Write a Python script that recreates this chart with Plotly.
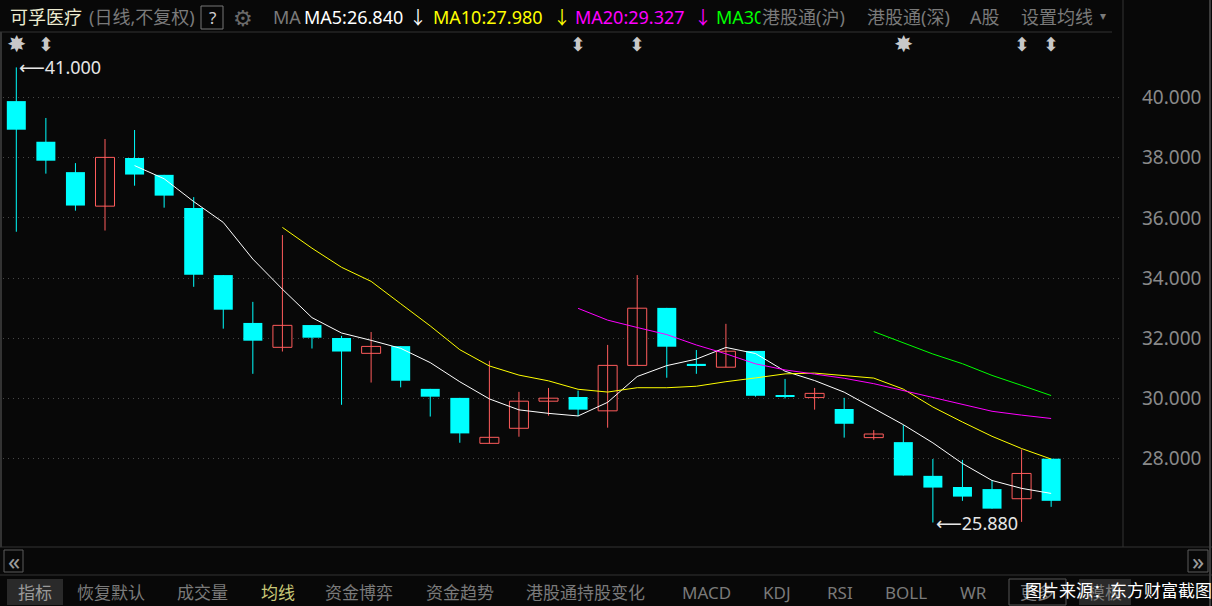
import plotly.graph_objects as go
import pandas as pd

# ---- data ----
opens  = [39.88, 38.53, 37.52, 36.39, 37.99, 37.43, 36.33, 34.10, 32.51, 31.70,
          32.44, 32.01, 31.50, 31.74, 30.32, 30.02, 28.51, 29.01, 29.91, 30.05,
          29.59, 31.10, 33.01, 31.15, 31.04, 31.58, 30.11, 30.03, 29.65, 28.70,
          28.55, 27.43, 27.06, 26.99, 26.67, 28.00]
highs  = [41.00, 39.32, 37.82, 38.62, 38.92, 37.43, 36.69, 34.10, 33.21, 35.43,
          32.44, 32.08, 32.21, 31.74, 30.32, 30.02, 31.25, 30.22, 30.35, 30.26,
          31.78, 34.10, 33.01, 31.61, 32.48, 31.58, 30.65, 30.35, 30.02, 28.95,
          29.12, 27.99, 27.96, 27.29, 28.31, 28.00]
lows   = [35.54, 37.47, 36.24, 35.58, 37.07, 36.34, 33.71, 32.32, 30.82, 31.56,
          31.66, 29.79, 30.53, 30.37, 29.40, 28.53, 28.51, 28.73, 29.43, 29.41,
          29.03, 31.10, 30.69, 30.82, 31.04, 30.06, 30.00, 29.63, 28.70, 28.63,
          27.44, 25.88, 26.60, 26.34, 25.90, 26.40]
closes = [38.93, 37.90, 36.41, 38.01, 37.44, 36.74, 34.11, 32.95, 31.92, 32.43,
          32.02, 31.56, 31.73, 30.59, 30.06, 28.84, 28.71, 29.91, 30.01, 29.63,
          31.10, 33.00, 31.72, 31.09, 31.57, 30.09, 30.06, 30.17, 29.16, 28.82,
          27.44, 27.04, 26.74, 26.34, 27.51, 26.60]
ma_periods = [5, 10, 20, 30]
ma_colors = ["#ffffff", "#ffff00", "#ff00ff", "#00ff00"]
y_ticks = [28, 30, 32, 34, 36, 38, 40]
header_ma = ["MA5:26.840", "MA10:27.980", "MA20:29.327", "MA30"]
toolbar = ["恢复默认", "成交量", "均线", "资金博弈", "资金趋势", "港股通持股变化",
           "MACD", "KDJ", "RSI", "BOLL", "WR"]
star_idx = [0, 30]
updown_idx = [1, 19, 21, 34, 35]

BG = "#080808"
RED = "#ff5c5c"
CYAN = "#00ffff"
GRAY = "#8a8a8a"
FONT = "Noto Sans, Noto Sans CJK SC, DejaVu Sans"

n = len(closes)
xs = list(range(n))
up = [c >= o for o, c in zip(opens, closes)]

W, H = 1212, 606
L, R, T, B = 3, 1123, 32, 547


def px(x):
    return (x - L) / (R - L)


def py(y):
    return (B - y) / (B - T)


fig = go.Figure()

# wicks
for color, flag in ((RED, True), (CYAN, False)):
    wx, wy = [], []
    for i in xs:
        if up[i] == flag:
            wx += [i, i, None]
            wy += [lows[i], highs[i], None]
    fig.add_trace(go.Scatter(x=wx, y=wy, mode="lines",
                             line=dict(color=color, width=1),
                             hoverinfo="skip", showlegend=False))

# bodies
bw = 19 / 29.57
for flag in (True, False):
    bx = [i for i in xs if up[i] == flag]
    base = [min(opens[i], closes[i]) for i in bx]
    hgt = [abs(closes[i] - opens[i]) for i in bx]
    fig.add_trace(go.Bar(
        x=bx, y=hgt, base=base, width=bw,
        marker=dict(color=BG if flag else CYAN,
                    line=dict(color=RED if flag else CYAN, width=1 if flag else 0)),
        hoverinfo="skip", showlegend=False))

# moving averages
cs = pd.Series(closes)
for p, col in zip(ma_periods, ma_colors):
    ma = cs.rolling(p).mean()
    fig.add_trace(go.Scatter(x=xs, y=ma, mode="lines",
                             line=dict(color=col, width=1),
                             hoverinfo="skip", showlegend=False))

shapes = []
ann = []


def text(x, y, s, color=GRAY, size=18, anchor="left", bg=None):
    d = dict(x=px(x), y=py(y), xref="paper", yref="paper", text=s,
             showarrow=False, xanchor=anchor, yanchor="middle",
             font=dict(family=FONT, size=size, color=color))
    if bg:
        d["bgcolor"] = bg
    ann.append(d)


def line(x0, y0, x1, y1, color="#333333", width=1):
    shapes.append(dict(type="line", xref="paper", yref="paper",
                       x0=px(x0), y0=py(y0), x1=px(x1), y1=py(y1),
                       line=dict(color=color, width=width), layer="above"))


def rect(x0, y0, x1, y1, line_color=None, fill=None):
    shapes.append(dict(type="rect", xref="paper", yref="paper",
                       x0=px(x0), y0=py(y0), x1=px(x1), y1=py(y1),
                       line=dict(color=line_color or "rgba(0,0,0,0)", width=1),
                       fillcolor=fill or "rgba(0,0,0,0)", layer="below"))


# frame lines
line(0, 32, 1112, 32)
line(1123, 0, 1123, 547)
line(0, 547, 1212, 547)
line(0, 575, 1212, 575)
line(1, 32, 1, 547, "#333333", 2)
line(1210, 0, 1210, 606, "#3c3c3c", 2)

# header
text(8, 17, "可孚医疗", "#ecebd0", 18)
text(87, 17, "(日线,不复权)", "#7a7a7a", 18)
rect(201, 6, 223, 29, "#777777")
text(212, 17, "?", "#cfcfcf", 17, "center")
text(243, 17, "⚙", "#6a6a6a", 22, "center")
text(271, 17, "MA", "#7a7a7a", 18)
ma_x = [302, 431, 573, 714]
arrow_x = [418, 562, 703, None]
for s, xx, ax, col in zip(header_ma, ma_x, arrow_x, ma_colors):
    text(xx, 17, s, col, 18)
    if ax:
        text(ax, 17, "↓", col, 18, "center")
text(760, 17, "港股通(沪)", "#7a7a7a", 18, bg=BG)
text(865, 17, "港股通(深)", "#7a7a7a", 18)
text(968, 17, "A股", "#7a7a7a", 18)
text(1019, 17, "设置均线", "#7a7a7a", 18)
text(1103, 16, "▾", "#7a7a7a", 12, "center")

# event markers row
for i in star_idx:
    ann.append(dict(x=i, y=41.77, xref="x", yref="y", text="✸", showarrow=False,
                    font=dict(family="DejaVu Sans", size=23, color="#c8c8c8")))
for i in updown_idx:
    ann.append(dict(x=i, y=41.77, xref="x", yref="y", text="⬍", showarrow=False,
                    font=dict(family="DejaVu Sans", size=19, color="#c8c8c8")))

# high / low labels
imax = max(xs, key=lambda i: highs[i])
imin = min(xs, key=lambda i: lows[i])
ann.append(dict(x=imax, y=highs[imax], xref="x", yref="y",
                text="⟵%.3f" % highs[imax], showarrow=False, xanchor="left",
                yanchor="middle", xshift=1,
                font=dict(family=FONT, size=18, color="#e6e6e6")))
ann.append(dict(x=imin, y=lows[imin], xref="x", yref="y",
                text="⟵%.3f" % lows[imin], showarrow=False, xanchor="left",
                yanchor="middle", xshift=1,
                font=dict(family=FONT, size=18, color="#e6e6e6")))

# scroll buttons
rect(4, 550, 23, 572, "#5a5a5a")
text(13.5, 560, "«", "#9a9a9a", 24, "center")
rect(1188, 550, 1208, 572, "#5a5a5a")
text(1198, 560, "»", "#9a9a9a", 24, "center")

# toolbar
rect(7, 579, 63, 605, None, "#2a2a2a")
text(35, 592, "指标", "#9a9a9a", 17, "center")
tb_x = [78, 178, 262, 326, 427, 527, 683, 764, 828, 886, 961]
for s, xx in zip(toolbar, tb_x):
    text(xx - 3, 592, s, "#c8c878" if s == "均线" else "#7a7a7a", 17)
rect(1009, 579, 1066, 605, "#555555")
text(1037, 592, "更多", "#7a7a7a", 17, "center")
rect(1079, 579, 1131, 605, None, "#2a2a2a")
text(1105, 592, "模板", "#7a7a7a", 17, "center")
text(1118, 590, "图片来源：东方财富截图", "#ffffff", 17, "center")

fig.update_layout(
    width=W, height=H,
    margin=dict(l=L, r=W - R, t=T, b=H - B),
    paper_bgcolor=BG, plot_bgcolor=BG,
    barmode="overlay", showlegend=False,
    shapes=shapes, annotations=ann,
    xaxis=dict(range=[-0.45, 37.43], showgrid=False, zeroline=False,
               showticklabels=False, fixedrange=True),
    yaxis=dict(range=[25.066, 42.176], side="right", tickvals=y_ticks,
               tickformat=".3f", showgrid=True, gridcolor="#474747",
               griddash="1px,4px", gridwidth=1, zeroline=False,
               ticks="", ticklabelstandoff=18,
               tickfont=dict(family=FONT, size=19, color=GRAY)),
)

fig.write_html("out.html")
